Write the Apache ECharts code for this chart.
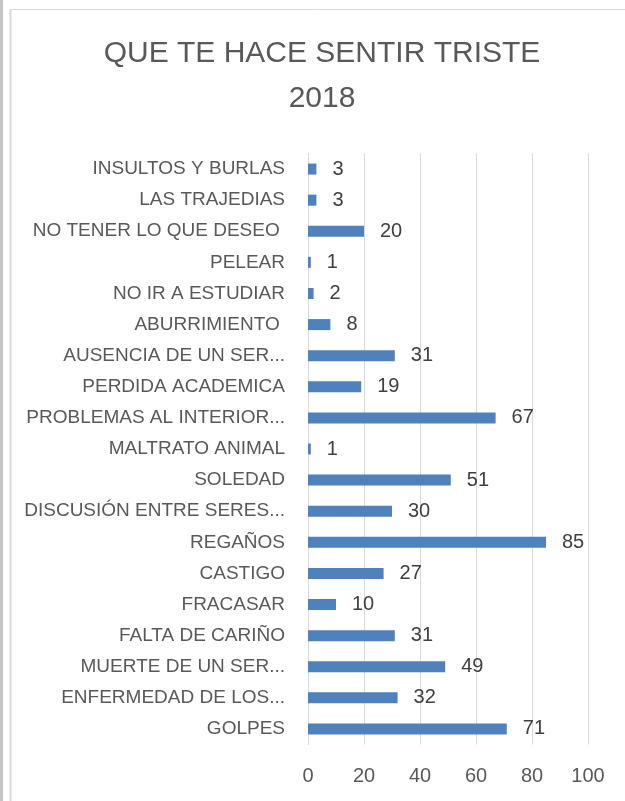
<!DOCTYPE html>
<html>
<head>
<meta charset="utf-8">
<script src="https://cdn.jsdelivr.net/npm/echarts@6/dist/echarts.min.js"></script>
<style>
  html, body { margin: 0; padding: 0; background: #fff; }
  #chart { width: 625px; height: 801px; }
</style>
</head>
<body>
<div id="chart"></div>
<script>
var categories = [
  'INSULTOS Y BURLAS', 'LAS TRAJEDIAS', 'NO TENER LO QUE DESEO ', 'PELEAR',
  'NO IR A ESTUDIAR', 'ABURRIMIENTO ', 'AUSENCIA DE UN SER...', 'PERDIDA ACADEMICA',
  'PROBLEMAS AL INTERIOR...', 'MALTRATO ANIMAL', 'SOLEDAD', 'DISCUSIÓN ENTRE SERES...',
  'REGAÑOS', 'CASTIGO', 'FRACASAR', 'FALTA DE CARIÑO', 'MUERTE DE UN SER...',
  'ENFERMEDAD DE LOS...', 'GOLPES'
];
var values = [3, 3, 20, 1, 2, 8, 31, 19, 67, 1, 51, 30, 85, 27, 10, 31, 49, 32, 71];
var xTicks = [0, 20, 40, 60, 80, 100];

var chartDom = document.getElementById('chart');
var myChart = echarts.init(chartDom);
var font = '"Liberation Sans", Arial, sans-serif';

var option = {
  backgroundColor: '#ffffff',
  animation: false,
  textStyle: { fontFamily: font },
  title: {
    text: 'QUE TE HACE SENTIR TRISTE\n2018',
    left: 322,
    top: 31,
    padding: 0,
    textAlign: 'center',
    textStyle: {
      color: '#595959',
      fontSize: 30,
      fontWeight: 'normal',
      lineHeight: 45,
      fontFamily: font
    }
  },
  graphic: [
    { type: 'rect', shape: { x: 0, y: 0, width: 3, height: 801 }, style: { fill: '#c4c4c4' } },
    { type: 'line', shape: { x1: 10.5, y1: 9, x2: 10.5, y2: 801 }, style: { stroke: '#d9d9d9', lineWidth: 2 } },
    { type: 'line', shape: { x1: 10, y1: 9.5, x2: 625, y2: 9.5 }, style: { stroke: '#d9d9d9', lineWidth: 1 } }
  ],
  grid: {
    left: 308,
    right: 37,
    top: 153.5,
    bottom: 56.5,
    containLabel: false
  },
  xAxis: {
    type: 'value',
    min: xTicks[0],
    max: xTicks[xTicks.length - 1],
    interval: 20,
    axisLine: { show: false },
    axisTick: { show: false },
    splitLine: { lineStyle: { color: '#d9d9d9', width: 1 } },
    axisLabel: { color: '#595959', fontSize: 20, margin: 22, fontFamily: font }
  },
  yAxis: {
    type: 'category',
    data: categories,
    inverse: true,
    axisLine: { show: true, lineStyle: { color: '#d9d9d9' } },
    axisTick: { show: false },
    axisLabel: { color: '#595959', fontSize: 19, margin: 23, fontFamily: font }
  },
  series: [
    {
      type: 'bar',
      data: values,
      barWidth: 11,
      itemStyle: { color: '#4f81bd' },
      label: {
        show: true,
        position: 'right',
        distance: 16,
        color: '#404040',
        fontSize: 20,
        fontFamily: font
      }
    }
  ]
};

option && myChart.setOption(option);

window.addEventListener('resize', function () {
  myChart.resize();
});
</script>
</body>
</html>
